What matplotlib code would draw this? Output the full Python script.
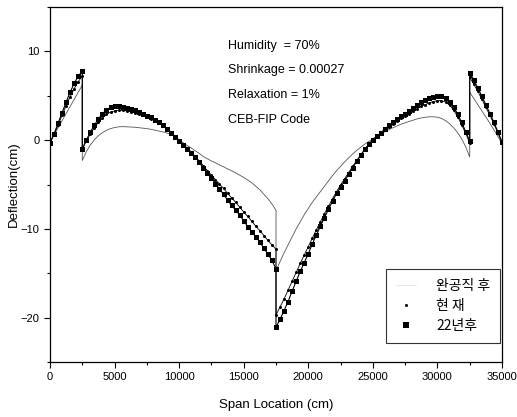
import matplotlib
matplotlib.use("Agg")
import matplotlib.pyplot as plt
from matplotlib.lines import Line2D
from matplotlib.ticker import MultipleLocator

plt.rcParams['font.family'] = ['Liberation Sans', 'Noto Sans CJK KR', 'DejaVu Sans']

# ---- span x positions (cm) ----
x_span1 = [0, 312.5, 625, 937.5, 1250, 1562.5, 1875, 2187.5, 2500]
x_span2 = [2500, 2812.5, 3125, 3437.5, 3750, 4062.5, 4375, 4687.5, 5000, 5312.5,
           5625, 5937.5, 6250, 6562.5, 6875, 7187.5, 7500, 7812.5, 8125, 8437.5,
           8750, 9062.5, 9375, 9687.5, 10000, 10312.5, 10625, 10937.5, 11250, 11562.5,
           11875, 12187.5, 12500, 12812.5, 13125, 13437.5, 13750, 14062.5, 14375, 14687.5,
           15000, 15312.5, 15625, 15937.5, 16250, 16562.5, 16875, 17187.5, 17500]
x_span3 = [17500, 17812.5, 18125, 18437.5, 18750, 19062.5, 19375, 19687.5, 20000, 20312.5,
           20625, 20937.5, 21250, 21562.5, 21875, 22187.5, 22500, 22812.5, 23125, 23437.5,
           23750, 24062.5, 24375, 24687.5, 25000, 25312.5, 25625, 25937.5, 26250, 26562.5,
           26875, 27187.5, 27500, 27812.5, 28125, 28437.5, 28750, 29062.5, 29375, 29687.5,
           30000, 30312.5, 30625, 30937.5, 31250, 31562.5, 31875, 32187.5, 32500]
x_span4 = [32500, 32812.5, 33125, 33437.5, 33750, 34062.5, 34375, 34687.5, 35000]

# ---- 완공직 후 (thin line) ----
init_s1 = [-0.2, 0.6, 1.4, 2.2, 3.0, 3.8, 4.6, 5.4, 6.2]
init_s2 = [-2.3, -1.3, -0.55, 0.05, 0.5, 0.85, 1.1, 1.3, 1.42, 1.5,
           1.52, 1.5, 1.48, 1.45, 1.4, 1.35, 1.3, 1.22, 1.12, 1.02,
           0.92, 0.8, 0.62, 0.35, 0.05, -0.3, -0.6, -0.9, -1.2, -1.5,
           -1.85, -2.1, -2.35, -2.55, -2.8, -3.0, -3.25, -3.45, -3.7, -3.95,
           -4.2, -4.5, -4.8, -5.2, -5.6, -6.1, -6.6, -7.2, -7.9]
init_s3 = [-14.7, -13.7, -12.7, -11.8, -10.9, -10.0, -9.2, -8.4, -7.7, -7.0,
           -6.4, -5.8, -5.2, -4.6, -4.0, -3.45, -2.95, -2.45, -2.0, -1.55,
           -1.15, -0.8, -0.45, -0.15, 0.15, 0.45, 0.7, 0.95, 1.2, 1.4,
           1.6, 1.8, 1.95, 2.1, 2.25, 2.4, 2.5, 2.58, 2.63, 2.63,
           2.58, 2.45, 2.2, 1.85, 1.4, 0.85, 0.15, -0.75, -1.9]
init_s4 = [5.4, 4.7, 4.0, 3.3, 2.6, 1.9, 1.15, 0.4, -0.4]

# ---- 현 재 (small dots) ----
now_s1 = [-0.3, 0.6, 1.7, 2.8, 3.9, 4.9, 5.8, 6.6, 7.2]
now_s2 = [-1.0, -0.1, 0.7, 1.4, 2.0, 2.5, 2.9, 3.15, 3.3, 3.35,
          3.35, 3.3, 3.2, 3.1, 2.95, 2.8, 2.6, 2.4, 2.2, 1.95,
          1.6, 1.2, 0.8, 0.4, 0.0, -0.45, -0.9, -1.35, -1.85, -2.35,
          -2.9, -3.45, -3.95, -4.45, -4.95, -5.45, -6.0, -6.5, -7.0, -7.55,
          -8.1, -8.6, -9.15, -9.7, -10.2, -10.75, -11.3, -11.8, -12.3]
now_s3 = [-19.7, -18.8, -17.9, -16.9, -15.9, -14.9, -13.9, -12.95, -12.0, -11.05,
          -10.1, -9.2, -8.3, -7.45, -6.6, -5.8, -5.05, -4.35, -3.65, -2.95,
          -2.3, -1.65, -1.05, -0.5, 0.0, 0.4, 0.8, 1.15, 1.5, 1.85,
          2.15, 2.45, 2.75, 3.0, 3.25, 3.55, 3.8, 4.0, 4.2, 4.35,
          4.45, 4.45, 4.3, 3.95, 3.4, 2.65, 1.75, 0.75, -0.3]
now_s4 = [7.1, 6.3, 5.5, 4.6, 3.7, 2.8, 1.8, 0.8, -0.3]

# ---- 22년후 (squares) ----
y22_s1 = [-0.3, 0.7, 1.9, 3.1, 4.3, 5.4, 6.4, 7.2, 7.8]
y22_s2 = [-1.0, 0.0, 0.9, 1.7, 2.4, 3.0, 3.4, 3.7, 3.8, 3.8,
          3.75, 3.65, 3.5, 3.35, 3.15, 2.95, 2.75, 2.55, 2.3, 2.0,
          1.65, 1.25, 0.8, 0.35, -0.1, -0.55, -0.95, -1.4, -1.95, -2.5,
          -3.15, -3.75, -4.3, -4.9, -5.5, -6.1, -6.75, -7.35, -7.9, -8.45,
          -9.1, -9.75, -10.35, -10.9, -11.5, -12.2, -12.85, -13.55, -14.5]
y22_s3 = [-21.1, -20.2, -19.2, -18.2, -17.0, -15.9, -14.8, -13.8, -12.8, -11.7,
          -10.7, -9.7, -8.75, -7.8, -6.9, -6.0, -5.3, -4.6, -3.85, -3.1,
          -2.4, -1.7, -1.05, -0.45, 0.05, 0.45, 0.85, 1.25, 1.65, 2.0,
          2.35, 2.7, 3.0, 3.3, 3.6, 3.95, 4.25, 4.5, 4.7, 4.85,
          4.95, 4.95, 4.75, 4.35, 3.75, 2.95, 2.0, 0.95, -0.1]
y22_s4 = [7.6, 6.8, 5.9, 4.95, 4.0, 3.0, 2.0, 0.9, -0.2]

labels = ['완공직 후', '현 재', '22년후']
x_ticks = [0, 5000, 10000, 15000, 20000, 25000, 30000, 35000]
y_ticks = [-20, -10, 0, 10]
notes = ['Humidity  = 70%', 'Shrinkage = 0.00027', 'Relaxation = 1%', 'CEB-FIP Code']

x_all = x_span1 + x_span2 + x_span3 + x_span4
y_init = init_s1 + init_s2 + init_s3 + init_s4
y_now = now_s1 + now_s2 + now_s3 + now_s4
y_22 = y22_s1 + y22_s2 + y22_s3 + y22_s4

fig = plt.figure(figsize=(5.17, 4.17), dpi=100)
ax = fig.add_axes([0.0967, 0.1319, 0.8743, 0.8513])

ax.plot(x_all, y_init, color='#555555', lw=0.6)
ax.plot(x_all, y_now, color='black', lw=0.6, marker='o', ms=2.2, markeredgewidth=0)
ax.plot(x_all, y_22, color='black', lw=0.8, marker='s', ms=3.6, markeredgewidth=0)

ax.set_xlim(0, 35000)
ax.set_ylim(-25, 15)
ax.set_xticks(x_ticks)
ax.set_yticks(y_ticks)
ax.xaxis.set_minor_locator(MultipleLocator(2500))
ax.yaxis.set_minor_locator(MultipleLocator(5))
ax.tick_params(which='both', direction='out', labelsize=8, width=0.8)
ax.tick_params(which='major', length=4)
ax.tick_params(which='minor', length=2.5)
for sp in ax.spines.values():
    sp.set_linewidth(0.9)

ax.set_xlabel('Span Location (cm)', fontsize=9.5)
ax.set_ylabel('Deflection(cm)', fontsize=9.5)
ax.xaxis.set_label_coords(0.5, -0.104)
ax.yaxis.set_label_coords(-0.066, 0.5)

ys = [0.890, 0.822, 0.752, 0.682]
for t, yy in zip(notes, ys):
    ax.text(0.394, yy, t, transform=ax.transAxes, fontsize=9, va='center', ha='left')

handles = [Line2D([], [], color='#dddddd', lw=0.5),
           Line2D([], [], color='black', ls='none', marker='o', ms=2.2, markeredgewidth=0),
           Line2D([], [], color='black', ls='none', marker='s', ms=3.8, markeredgewidth=0)]
leg = ax.legend(handles, labels, loc='lower right', bbox_to_anchor=(0.996, 0.054),
                borderaxespad=0, fancybox=False, edgecolor='black', numpoints=1,
                handlelength=1.4, handletextpad=1.5, borderpad=0.7, labelspacing=0.45,
                prop={'family': ['Noto Sans CJK KR', 'DejaVu Sans'], 'size': 10})
leg.get_frame().set_linewidth(0.8)

fig.savefig('out.png', dpi=100)
